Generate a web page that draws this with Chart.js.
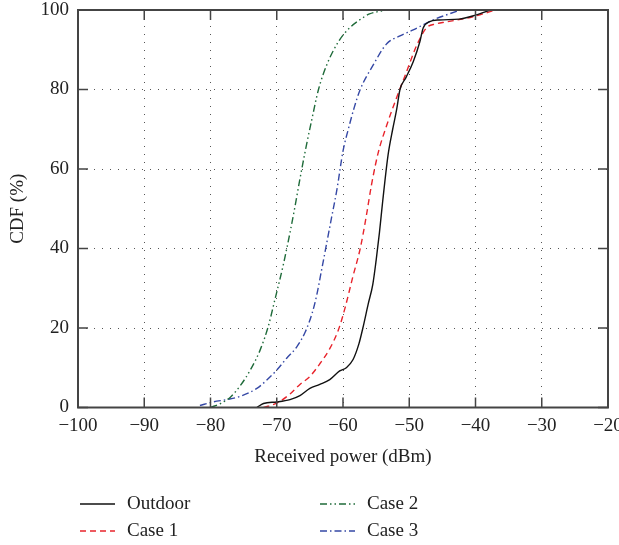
<!DOCTYPE html>
<html>
<head>
<meta charset="utf-8">
<title>CDF received power</title>
<script src="https://cdn.jsdelivr.net/npm/chart.js@4.4.0/dist/chart.umd.min.js"></script>
<style>
    body { margin: 0; background: #fff; }
</style>
</head>
<body>
<canvas id="cdfChart" width="619" height="545"></canvas>
<script>
// Data (received power in dBm, CDF in %)
const xTicks = [-100, -90, -80, -70, -60, -50, -40, -30, -20];
const yTicks = [0, 20, 40, 60, 80, 100];

const outdoorPower = [-73, -72, -70, -68, -66.5, -65, -63.5, -62, -60.5, -59.5, -58.5, -57.6, -57, -56.2, -55.5, -55, -54.5, -54, -53.2, -52.5, -51.9, -51.4, -50.5, -49.4, -48.4, -47.9, -47, -45.5, -42.5, -40, -37.8];
const outdoorCdf = [0, 1, 1.4, 2, 3, 4.8, 5.8, 7, 9.2, 10, 12, 16, 20, 26, 31, 37, 44, 52, 63.5, 70, 75, 80, 83, 87, 92, 95.5, 97, 97.5, 97.7, 98.7, 100];

const case1Power = [-72, -70, -68, -66.5, -65, -63.5, -62, -60.7, -59.7, -58.5, -57.4, -56.5, -55.7, -54.7, -53.4, -51.9, -50.4, -48.9, -47.4, -46, -44.4, -40.4, -37];
const case1Cdf = [0, 1.1, 3.4, 5.8, 7.8, 11, 14.8, 19.5, 25, 33, 40, 48, 56, 64, 71, 78, 84.5, 91, 95.5, 96.5, 97, 98.3, 100];

const case2Power = [-80, -78.5, -77, -75.5, -74, -72.5, -71.3, -70.3, -69, -68, -67.2, -66.5, -65.7, -64.7, -63.7, -62.5, -60.7, -59, -57.5, -56, -53.4];
const case2Cdf = [0, 1, 2.6, 5.5, 9.4, 14.5, 20.3, 27, 36, 44, 51, 57.5, 64.5, 72.5, 80, 86, 92, 95.5, 97.5, 99, 100];

const case3Power = [-81.6, -79.6, -77.5, -75.5, -73, -71.5, -70, -68.5, -67, -65.7, -64.7, -64, -63.3, -62.5, -61.7, -60.9, -60, -59.2, -58.3, -57.4, -55.5, -53.4, -51.4, -49.4, -46.4, -44, -42.3];
const case3Cdf = [0.5, 1.4, 2, 2.8, 4.8, 6.9, 9.4, 12.4, 15.2, 19, 23.5, 28, 34, 41, 48, 55, 64.5, 70, 75.5, 80, 86, 91.5, 93.5, 95, 97.5, 99, 100];

function toPoints(xs, ys) {
    return xs.map((x, i) => ({ x: x, y: ys[i] }));
}

const minus = v => String(v).replace('-', '\u2212');

Chart.defaults.font.family = "'Liberation Serif', 'DejaVu Serif', serif";
Chart.defaults.font.size = 19;
Chart.defaults.color = '#222';

// inward tick marks + full frame (as in the original figure)
const frameTicks = {
    id: 'frameTicks',
    afterDatasetsDraw(chart) {
        const { ctx, chartArea: a, scales } = chart;
        const len = 10;
        ctx.save();
        ctx.strokeStyle = '#444';
        ctx.lineWidth = 1.5;
        ctx.beginPath();
        xTicks.forEach(v => {
            const px = scales.x.getPixelForValue(v);
            ctx.moveTo(px, a.bottom); ctx.lineTo(px, a.bottom - len);
            ctx.moveTo(px, a.top); ctx.lineTo(px, a.top + len);
        });
        yTicks.forEach(v => {
            const py = scales.y.getPixelForValue(v);
            ctx.moveTo(a.left, py); ctx.lineTo(a.left + len, py);
            ctx.moveTo(a.right, py); ctx.lineTo(a.right - len, py);
        });
        ctx.stroke();
        ctx.lineWidth = 2;
        ctx.strokeRect(a.left, a.top, a.right - a.left, a.bottom - a.top);
        ctx.restore();
    }
};

// two-column legend below the axis title
const gridLegend = {
    id: 'gridLegend',
    afterDraw(chart) {
        const { ctx } = chart;
        const cols = [80, 320];
        const rows = [504, 531];
        ctx.save();
        chart.data.datasets.forEach((ds, i) => {
            const x = cols[Math.floor(i / 2)];
            const y = rows[i % 2];
            ctx.strokeStyle = ds.borderColor;
            ctx.lineWidth = ds.borderWidth;
            ctx.setLineDash(ds.borderDash || []);
            ctx.beginPath();
            ctx.moveTo(x, y); ctx.lineTo(x + 35, y);
            ctx.stroke();
            ctx.setLineDash([]);
            ctx.fillStyle = '#222';
            ctx.font = "19px 'Liberation Serif', 'DejaVu Serif', serif";
            ctx.textBaseline = 'middle';
            ctx.fillText(ds.label, x + 47, y);
        });
        ctx.restore();
    }
};

const lineStyle = { fill: false, pointRadius: 0, borderWidth: 1.4, cubicInterpolationMode: 'monotone' };

new Chart(document.getElementById('cdfChart'), {
    type: 'line',
    data: {
        datasets: [
            { label: 'Outdoor', data: toPoints(outdoorPower, outdoorCdf), borderColor: '#111', borderDash: [], ...lineStyle },
            { label: 'Case 1', data: toPoints(case1Power, case1Cdf), borderColor: '#e8242c', borderDash: [6, 4], ...lineStyle },
            { label: 'Case 2', data: toPoints(case2Power, case2Cdf), borderColor: '#1f6b3a', borderDash: [7, 3, 1.5, 3, 1.5, 3], ...lineStyle },
            { label: 'Case 3', data: toPoints(case3Power, case3Cdf), borderColor: '#3548a5', borderDash: [7, 3, 1.5, 3], ...lineStyle }
        ]
    },
    options: {
        responsive: false,
        animation: false,
        layout: { padding: { left: 0, right: 11, top: 10, bottom: 0 } },
        plugins: {
            legend: { display: false },
            tooltip: { enabled: false }
        },
        scales: {
            x: {
                type: 'linear',
                min: -100, max: -20,
                afterBuildTicks: s => { s.ticks = xTicks.map(v => ({ value: v })); },
                afterFit: s => { s.height = 137.5; s.paddingLeft = 0; s.paddingRight = 0; },
                ticks: { padding: 7, callback: minus, maxRotation: 0 },
                grid: { color: '#555', lineWidth: 1, drawTicks: false },
                border: { display: false, dash: [1, 7] },
                title: { display: true, text: 'Received power (dBm)', padding: { top: 0, bottom: 76.6 } }
            },
            y: {
                min: 0, max: 100,
                afterBuildTicks: s => { s.ticks = yTicks.map(v => ({ value: v })); },
                afterFit: s => { s.width = 78; s.paddingTop = 0; s.paddingBottom = 0; },
                ticks: { padding: 9 },
                grid: { color: '#555', lineWidth: 1, drawTicks: false },
                border: { display: false, dash: [1, 7] },
                title: { display: true, text: 'CDF (%)', padding: { top: 6.6, bottom: 0 } }
            }
        }
    },
    plugins: [frameTicks, gridLegend]
});
</script>
</body>
</html>
